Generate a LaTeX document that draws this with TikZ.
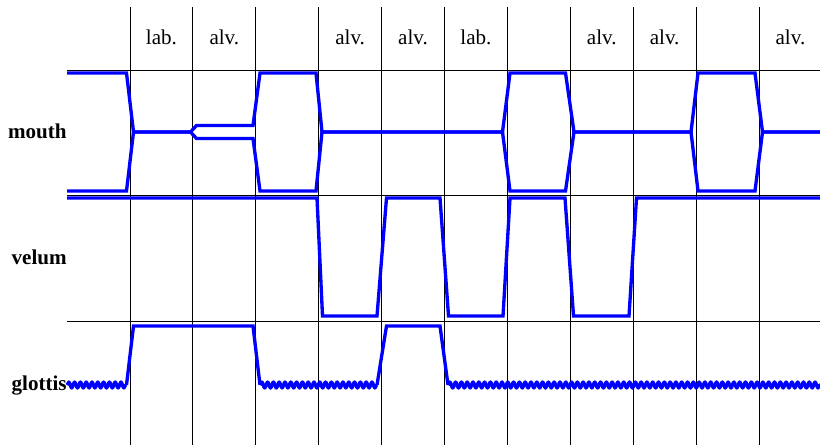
\documentclass[tikz,border=0pt]{standalone}
\usepackage{fontspec}
\setmainfont{Liberation Serif}
\usetikzlibrary{decorations.pathmorphing}

\begin{document}
\begin{tikzpicture}[x=0.02cm,y=-0.02cm,
    gridline/.style={black,line width=0.5pt},
    trace/.style={blue,line width=1.9pt},
    voiced/.style={trace,line join=round,decorate,decoration={snake,segment length=3.3pt,amplitude=1.7pt}},
    collabel/.style={anchor=base,font=\fontsize{12pt}{14pt}\selectfont},
    rowlabel/.style={anchor=base east,inner sep=0pt,font=\fontsize{12pt}{14pt}\selectfont\bfseries}]
    \useasboundingbox (0,0) rectangle (820,445);

    % grid
    \foreach \i in {0,...,10}
      \draw [gridline] ({130+62.9*\i},7) -- ++(0,438);
    \draw [gridline] (67,70) -- (820,70);
    \draw [gridline] (67,195) -- (820,195);
    \draw [gridline] (67,321) -- (820,321);

    % place of articulation
    \foreach \i/\t in {1/lab.,2/alv.,4/alv.,5/alv.,6/lab.,8/alv.,9/alv.,11/alv.}
      \node [collabel] (c\i) at ({98.55+62.9*\i},45) {\t};

    \node [rowlabel] (mouth) at (67,139) {mouth};
    \node [rowlabel] (velum) at (67,265) {velum};
    \node [rowlabel] (glottis) at (67,390) {glottis};

    % mouth
    \draw [trace] (67,73) -- (126.5,73) -- (133.5,132) -- (190.5,132) -- (196.5,125.5)
      -- (253,125.5) -- (260,73) -- (316,73) -- (322,132) -- (502.5,132) -- (510,73)
      -- (565.5,73) -- (574,132) -- (691,132) -- (698,73) -- (755,73) -- (762.5,132) -- (820,132);
    \draw [trace] (67,191) -- (126.5,191) -- (133.5,132) -- (190.5,132) -- (196.5,138.5)
      -- (253,138.5) -- (260,191) -- (316,191) -- (322,132) -- (502.5,132) -- (510,191)
      -- (565.5,191) -- (574,132) -- (691,132) -- (698,191) -- (755,191) -- (762.5,132) -- (820,132);

    % velum
    \draw [trace] (67,198) -- (317,198) -- (322.5,316) -- (377,316) -- (386.5,198) -- (440,198)
      -- (448.5,316) -- (503,316) -- (510,198) -- (565,198) -- (573.5,316) -- (629,316)
      -- (636.5,198) -- (820,198);

    % glottis
    \draw [voiced] (67,385) -- (126.5,385);
    \draw [trace] (126.5,385) -- (133.5,326) -- (253,326) -- (260,385);
    \draw [voiced] (260,385) -- (377,385);
    \draw [trace] (377,385) -- (386.5,326) -- (440,326) -- (448,385);
    \draw [voiced] (448,385) -- (820,385);
\end{tikzpicture}
\end{document}
